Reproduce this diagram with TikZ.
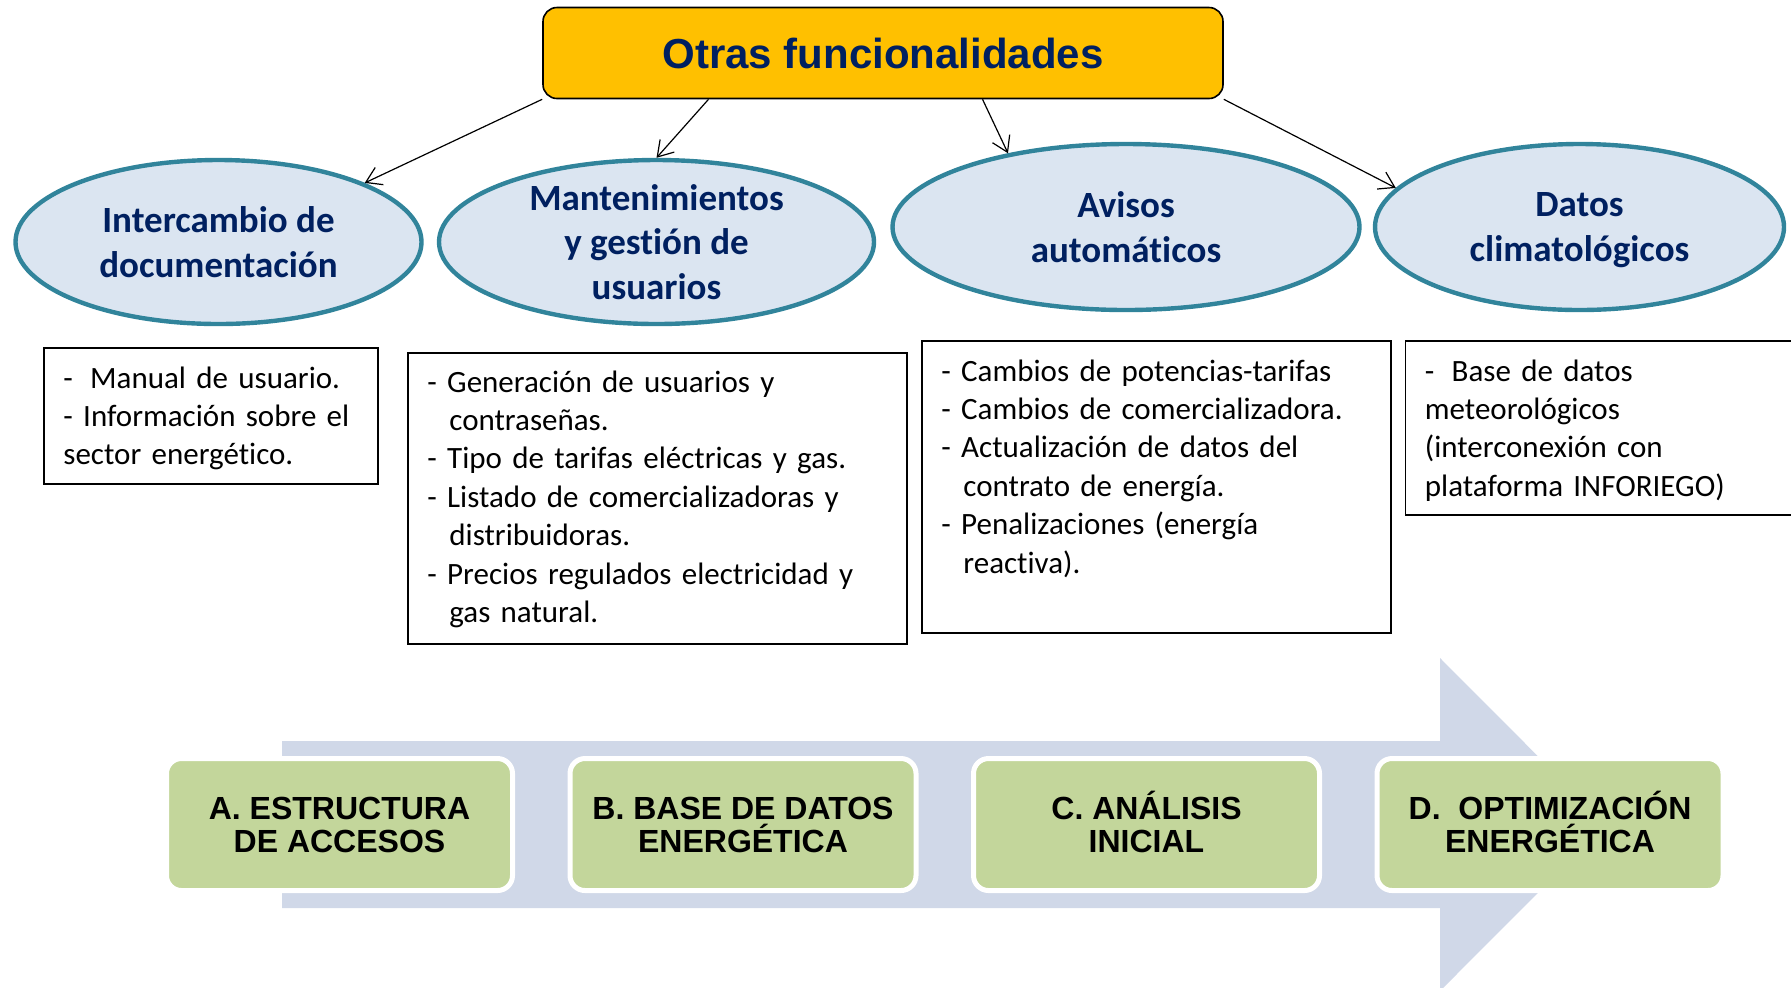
\documentclass[tikz,border=0pt]{standalone}
\usepackage{fontspec}
\setmainfont{Carlito}[Ligatures=NoCommon]
\newfontfamily\headfont{Liberation Sans}
\usetikzlibrary{shapes.geometric,arrows.meta,calc}
\definecolor{headorange}{RGB}{255,192,0}
\definecolor{navytext}{RGB}{0,32,96}
\definecolor{ovalblue}{RGB}{219,229,241}
\definecolor{ovalline}{RGB}{49,132,155}
\definecolor{stepgreen}{RGB}{195,214,155}
\definecolor{bandblue}{RGB}{208,216,232}
\tikzset{>={Straight Barb[length=7.5pt,width=9.5pt]},
  headbox/.style={rectangle,rounded corners=7pt,draw,line width=0.8pt,fill=headorange,minimum width=340pt,minimum height=45.5pt,text=navytext,font=\headfont\bfseries\fontsize{21}{25}\selectfont},
  topic/.style={ellipse,draw=ovalline,line width=2.2pt,fill=ovalblue,inner sep=-4pt,text depth=-0.5pt,align=center,text=navytext,font=\bfseries\fontsize{18.5}{22.3}\selectfont},
  listbox/.style={draw,line width=0.8pt,anchor=north west,inner sep=0pt},
  listtext/.style={anchor=base west,inner sep=0pt,text width=230pt,align=left,font=\fontsize{15.5}{19.2}\selectfont},
  stepbox/.style={rounded corners=7.5pt,fill=stepgreen,draw=white,line width=2.5pt,minimum width=173pt,minimum height=66pt,outer sep=0pt,text height=28pt,align=center,font=\headfont\bfseries\fontsize{16}{16.5}\selectfont},
  link/.style={->,line width=0.6pt}}

\begin{document}
\begin{tikzpicture}[x=0.5pt,y=-0.5pt,node distance=201.75pt]
  \useasboundingbox (0,0) rectangle (1791,987);
  \fill[bandblue] (282,741) -- (1440,741) -- (1440,658) -- (1606,824.5) -- (1440,991) -- (1440,908) -- (282,908) -- cycle;

  \node[headbox] (head) at (883,53) {Otras funcionalidades};

  \node[topic,minimum width=203pt,minimum height=82pt] (doc) at (218.5,242) {Intercambio de\\documentación};
  \node[topic,minimum width=217.5pt,minimum height=82pt] (mant) at (656.5,242) {Mantenimientos\\y gestión de\\usuarios};
  \node[topic,minimum width=233.5pt,minimum height=83pt] (avisos) at (1126,227) {Avisos\\automáticos};
  \node[topic,minimum width=204.5pt,minimum height=83pt] (clima) at (1579.5,227) {Datos\\climatológicos};

  \path[link]
    (head.south west) edge (doc.22)
    ($(head.south west)!0.244!(head.south east)$) edge (mant.north)
    ($(head.south west)!0.646!(head.south east)$) edge (avisos.148)
    (head.south east) edge (clima.168);

  \node[listbox,minimum width=167pt,minimum height=68pt] (doclist) at (43,347) {};
  \node[listtext] (doctext) at ([shift={(20,41)}]doclist.north west) {- \hspace{3.5pt}Manual de usuario.\\- Información sobre el\\sector energético.};
  \node[listbox,minimum width=249.5pt,minimum height=145.5pt] (mantlist) at (407,352) {};
  \node[listtext] (manttext) at ([shift={(20,40)}]mantlist.north west) {- Generación de usuarios y\\\hspace*{11pt}contraseñas.\\- Tipo de tarifas eléctricas y gas.\\- Listado de comercializadoras y\\\hspace*{11pt}distribuidoras.\\- Precios regulados electricidad y\\\hspace*{11pt}gas natural.};
  \node[listbox,minimum width=234.5pt,minimum height=146pt] (avisoslist) at (921,340) {};
  \node[listtext] (avisostext) at ([shift={(20,41)}]avisoslist.north west) {- Cambios de potencias-tarifas\\- Cambios de comercializadora.\\- Actualización de datos del\\\hspace*{11pt}contrato de energía.\\- Penalizaciones (energía\\\hspace*{11pt}reactiva).};
  \node[listbox,minimum width=200pt,minimum height=87pt] (climalist) at (1404.5,340) {};
  \node[listtext] (climatext) at ([shift={(20,41)}]climalist.north west) {- \hspace{3.5pt}Base de datos\\meteorológicos\\(interconexión con\\plataforma INFORIEGO)};

  \node[stepbox] (stepa) at (339.5,824.5) {A. ESTRUCTURA\\DE ACCESOS};
  \node[stepbox,right of=stepa] (stepb) {B. BASE DE DATOS\\ENERGÉTICA};
  \node[stepbox,right of=stepb] (stepc) {C. ANÁLISIS\\INICIAL};
  \node[stepbox,right of=stepc] (stepd) {D.\ \ OPTIMIZACIÓN\\ENERGÉTICA};
\end{tikzpicture}
\end{document}
